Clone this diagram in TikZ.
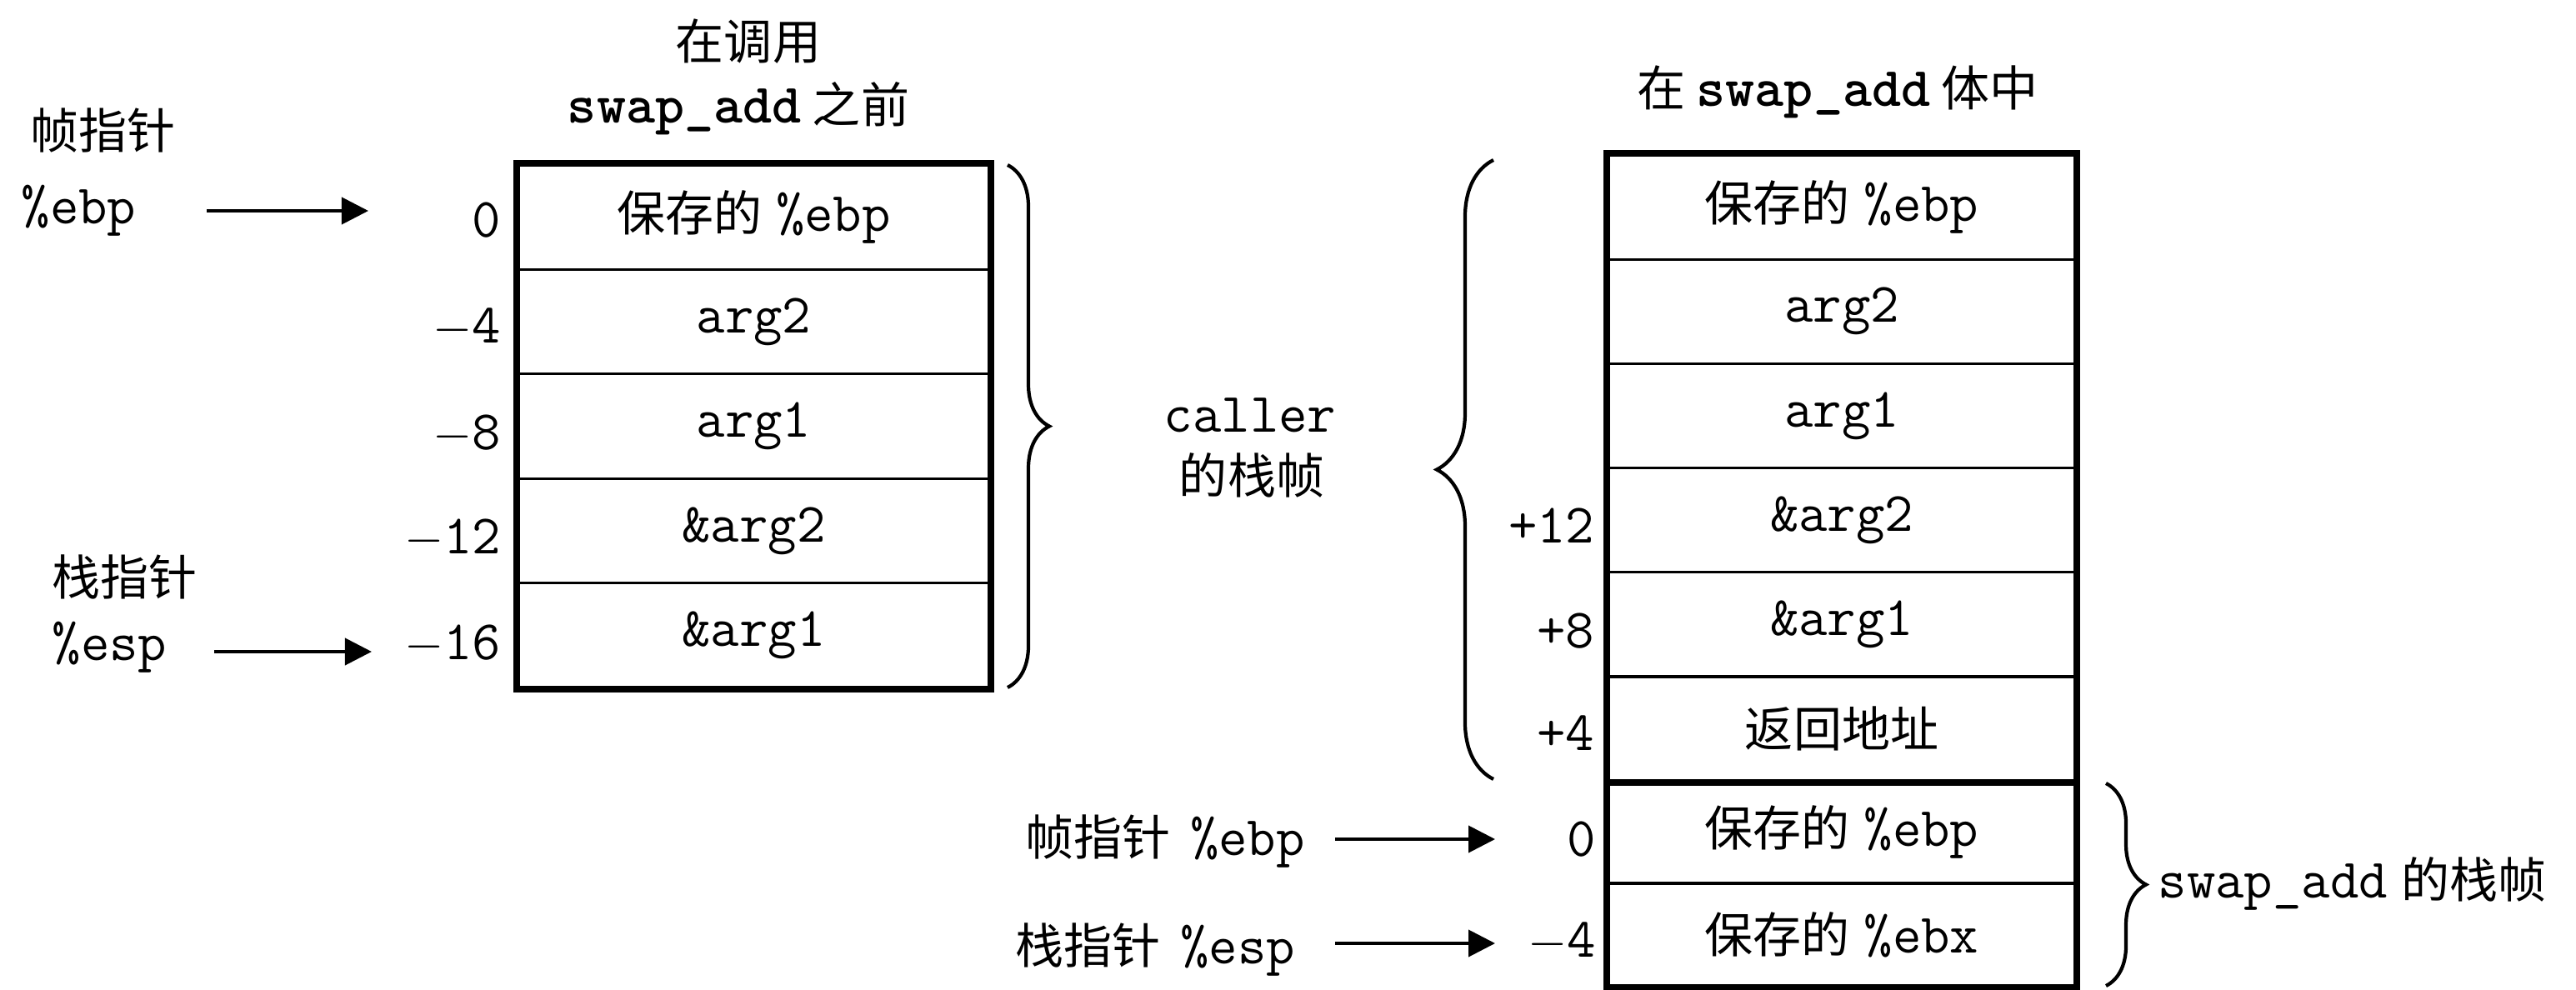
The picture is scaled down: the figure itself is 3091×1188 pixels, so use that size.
\documentclass[tikz,border=0pt]{standalone}
\usepackage{fontspec}
\newfontfamily\cjkfam{Noto Sans CJK SC}
\usetikzlibrary{arrows.meta,decorations.pathreplacing}
\newcommand\zh[1]{{\cjkfam\fontsize{16.5}{20}\selectfont #1}}
\newcommand\mns{\ensuremath{-}}
\begin{document}
\begin{tikzpicture}[x=0.01cm,y=-0.01cm,
  font=\ttfamily\fontsize{19}{22}\selectfont,
  every node/.style={inner sep=0pt},
  cell/.style={draw, line width=0.9pt},
  lcell/.style={cell, minimum width=5.65cm, minimum height=1.254cm},
  rcell/.style={cell, minimum width=5.6cm, minimum height=1.252cm},
  scell/.style={cell, minimum width=5.6cm, minimum height=1.23cm},
  frame/.style={line width=2.3pt},
  off/.style={anchor=east},
  lbl/.style={anchor=west},
  ptr/.style={line width=1.1pt, -{Triangle[length=0.32cm,width=0.32cm]}},
  brc/.style={decorate, line width=1.2pt, decoration={brace, amplitude=#1}},
]
\useasboundingbox (0,0) rectangle (3091,1188);

% ---------- titles ----------
\node (t1a) at (898,50) {\zh{在调用}};
\node (t1b) at (886,130) {\textbf{swap\_add}\hspace{0.2em}\zh{之前}};
\node (t2) at (2205,110) {\zh{在}\hspace{0.2em}\textbf{swap\_add}\hspace{0.2em}\zh{体中}};

% ---------- left stack ----------
\node[lcell] (L0) at (904.5,260.7) {\zh{保存的}\hspace{0.25em}\%ebp};
\node[lcell] (L1) at (904.5,386.1) {arg2};
\node[lcell] (L2) at (904.5,511.5) {arg1};
\node[lcell] (L3) at (904.5,636.9) {\&arg2};
\node[lcell] (L4) at (904.5,762.3) {\&arg1};
\draw[frame] (L0.north west) rectangle (L4.south east);

\node[off] (lo0) at (602,264) {0};
\node[off] (lo1) at (602,393) {\mns4};
\node[off] (lo2) at (602,521) {\mns8};
\node[off] (lo3) at (602,646) {\mns12};
\node[off] (lo4) at (602,773) {\mns16};

\node[lbl] (fp1) at (36,157) {\zh{帧指针}};
\node[lbl] (ebp1) at (25,253) {\%ebp};
\node[lbl] (sp1) at (62,692) {\zh{栈指针}};
\node[lbl] (esp1) at (62,777) {\%esp};
\coordinate (a1s) at (248,253);
\coordinate (a1e) at (442,253);
\coordinate (a2s) at (257,782);
\coordinate (a2e) at (446,782);
\draw[ptr] (a1s) -- (a1e);
\draw[ptr] (a2s) -- (a2e);

\coordinate (b1t) at (1209,198);
\coordinate (b1b) at (1209,825);
\draw[brc=0.5cm] (b1t) -- (b1b);

\node (cl) at (1500,498) {caller};
\node (cz) at (1502,570) {\zh{的栈帧}};

% ---------- right stack ----------
\node[rcell] (R0) at (2210,248.6) {\zh{保存的}\hspace{0.25em}\%ebp};
\node[rcell] (R1) at (2210,373.8) {arg2};
\node[rcell] (R2) at (2210,499) {arg1};
\node[rcell] (R3) at (2210,624.2) {\&arg2};
\node[rcell] (R4) at (2210,749.4) {\&arg1};
\node[rcell] (R5) at (2210,874.6) {\zh{返回地址}};
\node[scell] (S0) at (2210,998.5) {\zh{保存的}\hspace{0.25em}\%ebp};
\node[scell] (S1) at (2210,1121.5) {\zh{保存的}\hspace{0.25em}\%ebx};
\draw[frame] (R0.north west) rectangle (S1.south east);
\draw[frame] (R5.south west) -- (R5.south east);

\node[off] (ro3) at (1914,631) {+12};
\node[off] (ro4) at (1914,757) {+8};
\node[off] (ro5) at (1914,880) {+4};
\node[off] (so0) at (1916,1007) {0};
\node[off] (so1) at (1916,1130) {\mns4};

\coordinate (b2b) at (1792,935);
\coordinate (b2t) at (1792,192);
\draw[brc=0.68cm] (b2b) -- (b2t);

\coordinate (b3t) at (2527,940);
\coordinate (b3b) at (2527,1183);
\draw[brc=0.48cm] (b3t) -- (b3b);
\node[lbl] (sl) at (2589,1060) {swap\_add\hspace{0.25em}\zh{的栈帧}};

\node[lbl] (fp2) at (1230,1010) {\zh{帧指针}\hspace{0.35em}\%ebp};
\node[lbl] (sp2) at (1218,1140) {\zh{栈指针}\hspace{0.35em}\%esp};
\coordinate (a3s) at (1602,1007);
\coordinate (a3e) at (1794,1007);
\coordinate (a4s) at (1602,1132);
\coordinate (a4e) at (1794,1132);
\draw[ptr] (a3s) -- (a3e);
\draw[ptr] (a4s) -- (a4e);
\end{tikzpicture}
\end{document}
